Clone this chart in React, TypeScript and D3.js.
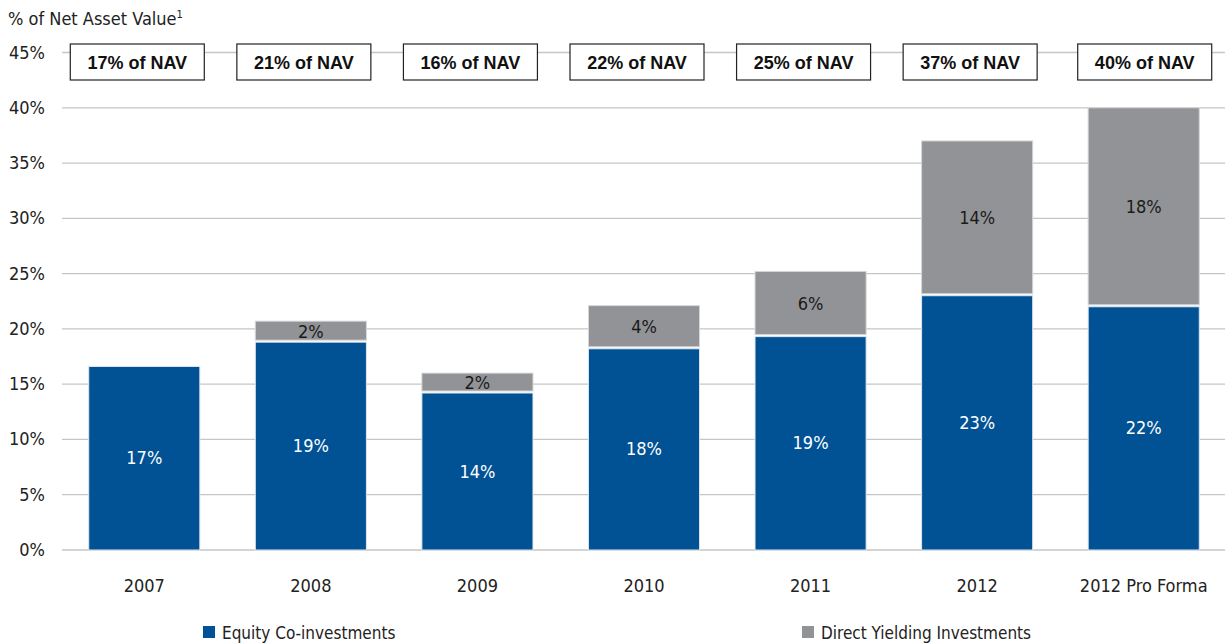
import React, { useEffect, useRef } from 'react';
import * as d3 from 'd3';

const categories = ['2007', '2008', '2009', '2010', '2011', '2012', '2012 Pro Forma'];
const equityValues = [16.6, 18.8, 14.2, 18.2, 19.3, 23.0, 22.0];
const directValues = [0, 1.9, 1.8, 3.9, 5.9, 14.0, 18.0];
const equityLabels = ['17%', '19%', '14%', '18%', '19%', '23%', '22%'];
const directLabels = ['', '2%', '2%', '4%', '6%', '14%', '18%'];
const navLabels = ['17% of NAV', '21% of NAV', '16% of NAV', '22% of NAV', '25% of NAV', '37% of NAV', '40% of NAV'];
const yTicks = [0, 5, 10, 15, 20, 25, 30, 35, 40, 45];

const App: React.FC = () => {
  const svgRef = useRef<SVGSVGElement>(null);

  useEffect(() => {
    const svg = d3.select(svgRef.current);
    svg.selectAll('*').remove();

    const width = 1225;
    const height = 644;
    const narrow = '"Liberation Sans Narrow", "Arial Narrow", "DejaVu Sans Condensed", sans-serif';
    const blue = '#005295';
    const gray = '#919396';

    svg.attr('width', width).attr('height', height);

    const x = d3.scaleBand().domain(categories).range([61, 1227]).paddingInner(0.333).paddingOuter(0.1665);
    const y = d3.scaleLinear().domain([0, 45]).range([550, 52.5]);

    // gridlines
    svg.append('g')
      .selectAll('line')
      .data(yTicks)
      .enter()
      .append('line')
      .attr('x1', 62)
      .attr('x2', width)
      .attr('y1', d => y(d))
      .attr('y2', d => y(d))
      .attr('stroke', '#c6c6c6')
      .attr('stroke-width', 1.3);

    // y tick labels
    svg.append('g')
      .selectAll('text')
      .data(yTicks)
      .enter()
      .append('text')
      .attr('x', 45)
      .attr('y', d => y(d) + 6)
      .attr('text-anchor', 'end')
      .style('font-family', narrow)
      .style('font-size', '18px')
      .attr('fill', '#222')
      .text(d => `${d}%`);

    // title
    const title = svg.append('text')
      .attr('x', 8)
      .attr('y', 25)
      .style('font-family', narrow)
      .style('font-size', '18px')
      .attr('fill', '#222');
    title.append('tspan').text('% of Net Asset Value');
    title.append('tspan').attr('dy', -7).style('font-size', '11px').text('1');

    const data = categories.map((c, i) => ({ c, eq: equityValues[i], dir: directValues[i], i }));

    // bars
    const bars = svg.append('g');
    bars.selectAll('.eq')
      .data(data)
      .enter()
      .append('rect')
      .attr('x', d => x(d.c) || 0)
      .attr('y', d => y(d.eq))
      .attr('width', x.bandwidth())
      .attr('height', d => y(0) - y(d.eq))
      .attr('fill', blue)
      .attr('stroke', '#dfe6ee')
      .attr('stroke-width', 1);

    bars.selectAll('.dir')
      .data(data.filter(d => d.dir > 0))
      .enter()
      .append('rect')
      .attr('x', d => x(d.c) || 0)
      .attr('y', d => y(d.eq + d.dir))
      .attr('width', x.bandwidth())
      .attr('height', d => y(d.eq) - y(d.eq + d.dir) - 2)
      .attr('fill', gray)
      .attr('stroke', '#d6d7d8')
      .attr('stroke-width', 1);

    // segment labels
    svg.append('g')
      .selectAll('text')
      .data(data)
      .enter()
      .append('text')
      .attr('x', d => (x(d.c) || 0) + x.bandwidth() / 2)
      .attr('y', d => y(d.eq / 2) + 6)
      .attr('text-anchor', 'middle')
      .style('font-family', narrow)
      .style('font-size', '18px')
      .attr('fill', '#fff')
      .text(d => equityLabels[d.i]);

    svg.append('g')
      .selectAll('text')
      .data(data.filter(d => d.dir > 0))
      .enter()
      .append('text')
      .attr('x', d => (x(d.c) || 0) + x.bandwidth() / 2)
      .attr('y', d => y(d.eq + d.dir / 2) + 6)
      .attr('text-anchor', 'middle')
      .style('font-family', narrow)
      .style('font-size', '18px')
      .attr('fill', '#1a1a1a')
      .text(d => directLabels[d.i]);

    // NAV boxes
    const boxW = 134;
    const boxes = svg.append('g')
      .selectAll('g')
      .data(data)
      .enter()
      .append('g')
      .attr('transform', d => {
        const last = d.i === categories.length - 1;
        const cx = (x(d.c) || 0) + x.bandwidth() / 2 + (last ? 1 : -7);
        return `translate(${cx - boxW / 2},44)`;
      });
    boxes.append('rect')
      .attr('width', boxW)
      .attr('height', 36)
      .attr('fill', '#fff')
      .attr('stroke', '#222')
      .attr('stroke-width', 1.2);
    boxes.append('text')
      .attr('x', boxW / 2)
      .attr('y', 24.5)
      .attr('text-anchor', 'middle')
      .style('font-family', '"Liberation Sans", Arial, sans-serif')
      .style('font-size', '18px')
      .style('font-weight', 'bold')
      .attr('fill', '#111')
      .text(d => navLabels[d.i]);

    // x axis labels
    svg.append('g')
      .selectAll('text')
      .data(categories)
      .enter()
      .append('text')
      .attr('x', d => (x(d) || 0) + x.bandwidth() / 2)
      .attr('y', 592)
      .attr('text-anchor', 'middle')
      .style('font-family', narrow)
      .style('font-size', '18px')
      .attr('fill', '#222')
      .text(d => d);

    // legend
    const legendItems = [
      { label: 'Equity Co-investments', color: blue, x: 203 },
      { label: 'Direct Yielding Investments', color: gray, x: 802 }
    ];
    legendItems.forEach(item => {
      const lg = svg.append('g').attr('transform', `translate(${item.x},626)`);
      lg.append('rect').attr('width', 12).attr('height', 12).attr('fill', item.color);
      lg.append('text')
        .attr('x', 19)
        .attr('y', 13)
        .style('font-family', narrow)
        .style('font-size', '17px')
        .attr('fill', '#222')
        .text(item.label);
    });
  }, []);

  return (
    <div style={{ position: 'absolute', left: 0, top: 0 }}>
      <svg ref={svgRef} style={{ display: 'block' }}></svg>
    </div>
  );
};

export default App;
